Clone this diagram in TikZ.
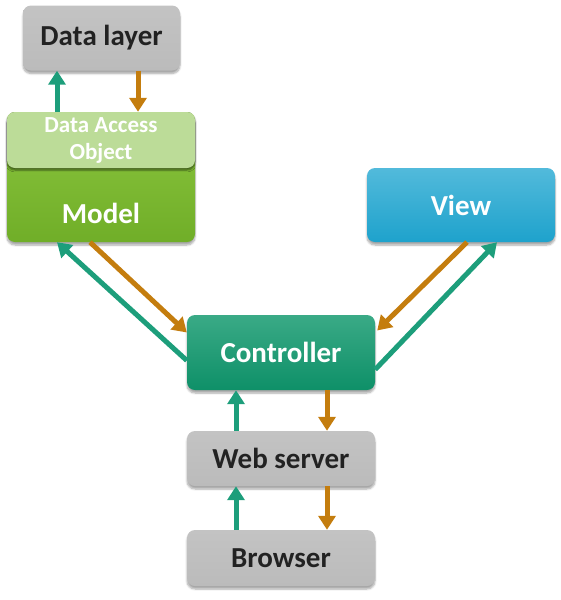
\documentclass[tikz,border=0pt]{standalone}
\usepackage{fontspec}
\setmainfont{Carlito}
\usetikzlibrary{arrows.meta,shadows.blur}
\definecolor{boxgray}{HTML}{C3C3C3}
\definecolor{boxgraybot}{HTML}{BBBBBB}
\definecolor{txtgray}{HTML}{222222}
\definecolor{modeltop}{HTML}{8CC63F}
\definecolor{modelbot}{HTML}{70AE28}
\definecolor{daogreen}{HTML}{BCDC98}
\definecolor{ctrltop}{HTML}{3AAA86}
\definecolor{ctrlbot}{HTML}{0E9068}
\definecolor{viewtop}{HTML}{52BADB}
\definecolor{viewbot}{HTML}{1EA2CC}
\definecolor{arrgreen}{HTML}{1D9E7B}
\definecolor{arrorange}{HTML}{C47D0E}
\tikzset{
  box/.style={rounded corners=8pt, inner sep=0pt, font=\bfseries,
    blur shadow={shadow xshift=0pt, shadow yshift=-3pt, shadow blur steps=6, shadow opacity=35}},
  bigfont/.style={font=\fontsize{29}{32}\selectfont\bfseries},
  graybox/.style={box, top color=boxgray, bottom color=boxgraybot, text=txtgray, bigfont},
  up/.style={draw=arrgreen, line width=5pt, -{Triangle[width=17pt,length=14pt]}},
  down/.style={draw=arrorange, line width=5pt, -{Triangle[width=17pt,length=14pt]}},
}
\begin{document}
\begin{tikzpicture}[x=1pt,y=-1pt]
\useasboundingbox (0,0) rectangle (561,600);
% nodes
\node[graybox, minimum width=157pt, minimum height=65pt] (dl) at (101.5,38) {Data layer};
\node[box, top color=modeltop, bottom color=modelbot, minimum width=188pt, minimum height=130pt] (model) at (101,177) {};
\node[box, fill=daogreen, minimum width=188pt, minimum height=56pt, text=white, align=center,
  font=\fontsize{23}{27}\selectfont\bfseries,
  blur shadow={shadow xshift=0pt, shadow yshift=-2pt, shadow blur steps=4, shadow opacity=30}] (dao) at (101,140) {Data Access\\Object};
\node[text=white, bigfont, inner sep=0pt] (modeltxt) at (101,213) {Model};
\node[box, top color=viewtop, bottom color=viewbot, minimum width=188pt, minimum height=74pt, text=white, bigfont] (view) at (461,205) {View};
\node[box, top color=ctrltop, bottom color=ctrlbot, minimum width=188pt, minimum height=75pt, text=white, bigfont] (ctrl) at (281,352.5) {Controller};
\node[graybox, minimum width=188pt, minimum height=55pt] (web) at (281,458.5) {Web server};
\node[graybox, minimum width=188pt, minimum height=56pt] (br) at (281,558) {Browser};
% data layer <-> model
\draw[up] ([xshift=-44pt]dao.north) -- ([xshift=-44.5pt]dl.south);
\draw[down] ([xshift=36.5pt]dl.south) -- ([xshift=37pt]dao.north);
% model <-> controller
\draw[up] ([yshift=-8pt]ctrl.west) -- ([xshift=-44pt]model.south);
\draw[down] ([xshift=-11pt]model.south) -- ([yshift=20pt]ctrl.west);
% view <-> controller
\draw[down] ([xshift=6pt]view.south) -- ([xshift=2pt,yshift=22pt]ctrl.east);
\draw[up] ([yshift=-17pt]ctrl.east) -- ([xshift=36pt]view.south);
% controller <-> web server
\draw[up] ([xshift=-45pt]web.north) -- ([xshift=-45pt]ctrl.south);
\draw[down] ([xshift=46pt]ctrl.south) -- ([xshift=46pt]web.north);
% web server <-> browser
\draw[up] ([xshift=-45pt]br.north) -- ([xshift=-45pt]web.south);
\draw[down] ([xshift=46pt]web.south) -- ([xshift=46pt]br.north);
\end{tikzpicture}
\end{document}
